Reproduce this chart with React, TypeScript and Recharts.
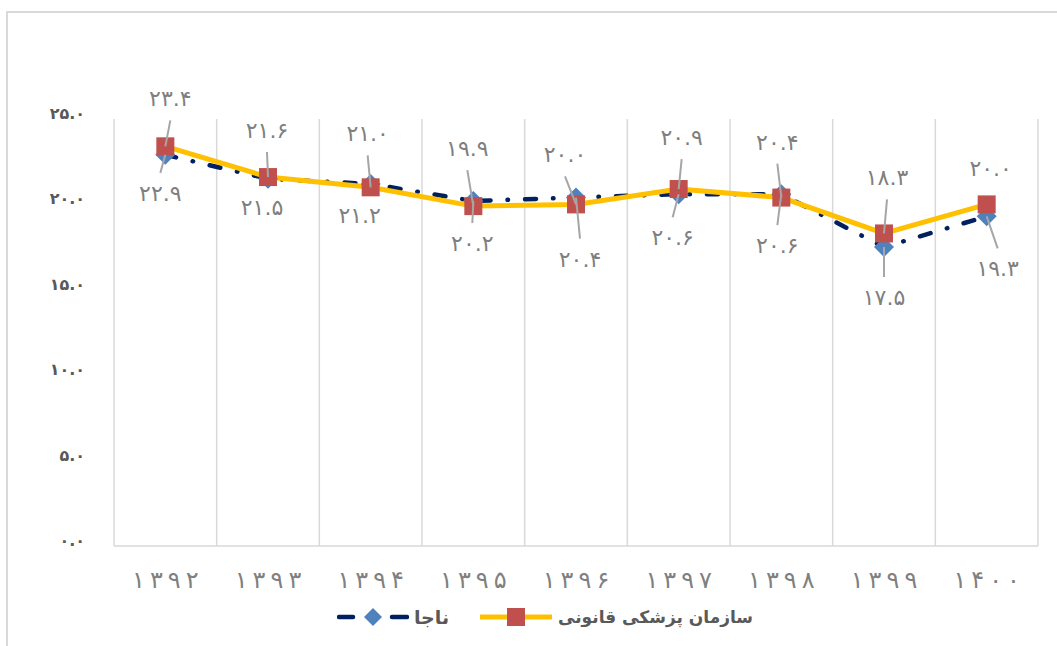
import React from "react";
import {
  LineChart,
  Line,
  XAxis,
  YAxis,
  CartesianGrid,
  Legend,
  LabelList,
} from "recharts";

const years = ["۱۳۹۲", "۱۳۹۳", "۱۳۹۴", "۱۳۹۵", "۱۳۹۶", "۱۳۹۷", "۱۳۹۸", "۱۳۹۹", "۱۴۰۰"];
const naja = [22.9, 21.5, 21.2, 20.2, 20.4, 20.6, 20.6, 17.5, 19.3];
const forensic = [23.4, 21.6, 21.0, 19.9, 20.0, 20.9, 20.4, 18.3, 20.0];
const yTicks = [0, 5, 10, 15, 20, 25];

const NAJA_NAME = "ناجا";
const FORENSIC_NAME = "سازمان پزشکی قانونی";

// hand-moved data labels in the original: [dx, dy] from each marker
const forensicLabelShift = [
  [5, -48], [-1, -47], [-3, -54], [-6, -58], [-11, -50],
  [3, -52], [-4, -56], [3, -56], [4, -36],
];
const najaLabelShift = [
  [-5, 38], [-6, 28], [-11, 31], [-1, 42], [4, 61],
  [-6, 43], [-4, 51], [0, 50], [11, 52],
];

const FONT = "'DejaVu Sans', sans-serif";
const GRID = "#d9d9d9";
const NAVY = "#002060";
const BLUE = "#4F81BD";
const YELLOW = "#FFC000";
const RED = "#C0504D";

const toFa = (s: string) => s.replace(/\d/g, (d) => "۰۱۲۳۴۵۶۷۸۹"[Number(d)]);
const fmt = (v: number) => toFa(v.toFixed(1));

const data = years.map((year, i) => ({
  year,
  naja: naja[i],
  forensic: forensic[i],
}));

const renderDiamond = (props: any) => {
  const { cx, cy, index } = props;
  if (cx == null || cy == null) return <g key={`d-${index}`} />;
  const r = 10;
  return (
    <polygon
      key={`d-${index}`}
      points={`${cx},${cy - r} ${cx + r},${cy} ${cx},${cy + r} ${cx - r},${cy}`}
      fill={BLUE}
    />
  );
};

const renderSquare = (props: any) => {
  const { cx, cy, index } = props;
  if (cx == null || cy == null) return <g key={`s-${index}`} />;
  return (
    <rect key={`s-${index}`} x={cx - 9} y={cy - 9} width={18} height={18} fill={RED} />
  );
};

// chrome drops letter-spacing for arabic-script digits, so space them by hand
const spaced = (s: string, gap: number) =>
  Array.from(s).map((ch, i) => (
    <tspan key={i} dx={i === 0 ? 0 : gap}>
      {ch}
    </tspan>
  ));

const makeLabel = (shift: number[][]) => (props: any) => {
  const { index, value } = props;
  const px = props.x ?? props.viewBox?.x;
  const py = props.y ?? props.viewBox?.y;
  if (px == null || py == null) return null;
  const [dx, dy] = shift[index];
  const lx = px + dx;
  const ly = py + dy;
  const showLeader = Math.abs(dy) > 37;
  return (
    <g key={`l-${index}`}>
      {showLeader && (
        <line
          x1={lx}
          y1={ly + (dy < 0 ? 22 : -20)}
          x2={px}
          y2={py}
          stroke="#a6a6a6"
          strokeWidth={2}
        />
      )}
      <text
        x={lx}
        y={ly + 8}
        textAnchor="middle"
        fontFamily={FONT}
        fontSize={22}
        fill="#7f7f7f"
      >
        {fmt(Number(value))}
      </text>
    </g>
  );
};

const YTick = (props: any) => {
  const { x, y, payload } = props;
  return (
    <text
      x={x - 29}
      y={y}
      textAnchor="end"
      fontFamily={FONT}
      fontSize={16}
      fontWeight="bold"
      fill="#595959"
    >
      {fmt(payload.value)}
    </text>
  );
};

const XTick = (props: any) => {
  const { x, y, payload } = props;
  return (
    <text
      x={x}
      y={y + 42}
      textAnchor="middle"
      fontFamily={FONT}
      fontSize={24}
      fill="#808080"
    >
      {spaced(payload.value, 5)}
    </text>
  );
};

const LegendContent = () => (
  <div
    style={{
      height: 41,
      display: "flex",
      justifyContent: "center",
      alignItems: "flex-start",
      paddingLeft: 52,
      fontFamily: FONT,
      fontSize: 17,
      fontWeight: "bold",
      color: "#595959",
    }}
  >
    <div style={{ display: "flex", alignItems: "center", height: 24, marginRight: 31 }}>
      <svg width={72} height={22}>
        <line x1={2} y1={11} x2={16} y2={11} stroke={NAVY} strokeWidth={4.5} strokeLinecap="round" />
        <polygon points="36,2 45,11 36,20 27,11" fill={BLUE} />
        <line x1={55} y1={11} x2={70} y2={11} stroke={NAVY} strokeWidth={4.5} strokeLinecap="round" />
      </svg>
      <span style={{ marginLeft: 5, fontSize: 19 }}>{NAJA_NAME}</span>
    </div>
    <div style={{ display: "flex", alignItems: "center", height: 24 }}>
      <svg width={72} height={22}>
        <line x1={0} y1={11} x2={72} y2={11} stroke={YELLOW} strokeWidth={5} strokeLinecap="round" />
        <rect x={27} y={2} width={18} height={18} fill={RED} />
      </svg>
      <span style={{ marginLeft: 6 }}>{FORENSIC_NAME}</span>
    </div>
  </div>
);

export default function App() {
  return (
    <div
      style={{
        position: "relative",
        width: 1057,
        height: 646,
        overflow: "hidden",
        background: "#fff",
      }}
    >
      <style>{"body{margin:0}"}</style>
      <div
        style={{
          position: "absolute",
          left: 6,
          top: 11,
          width: 1100,
          height: 700,
          border: `2px solid ${GRID}`,
        }}
      />
      <div style={{ position: "absolute", left: 0, top: 0 }}>
        <LineChart
          width={1057}
          height={646}
          data={data}
          margin={{ top: 119, right: 19, bottom: 0, left: 0 }}
        >
          <CartesianGrid
            horizontal={false}
            stroke={GRID}
            strokeWidth={1.5}
            verticalCoordinatesGenerator={({ offset }: any) =>
              Array.from(
                { length: years.length + 1 },
                (_, i) => offset.left + (offset.width * i) / years.length
              )
            }
          />
          <XAxis
            dataKey="year"
            scale="band"
            interval={0}
            height={59}
            axisLine={{ stroke: GRID, strokeWidth: 1.5 }}
            tickLine={false}
            tickSize={0}
            tickMargin={0}
            tick={<XTick />}
          />
          <YAxis
            domain={[0, 25]}
            ticks={yTicks}
            width={114}
            axisLine={false}
            tickLine={false}
            tickSize={0}
            tickMargin={0}
            tick={<YTick />}
          />
          <Legend verticalAlign="bottom" content={<LegendContent />} />
          <Line
            dataKey="naja"
            name={NAJA_NAME}
            stroke={NAVY}
            strokeWidth={4.5}
            strokeDasharray="11 17 0.5 17"
            strokeLinecap="round"
            dot={renderDiamond}
            activeDot={false}
            isAnimationActive={false}
          />
          <Line
            dataKey="forensic"
            name={FORENSIC_NAME}
            stroke={YELLOW}
            strokeWidth={5}
            dot={renderSquare}
            activeDot={false}
            isAnimationActive={false}
          />
          <Line
            dataKey="naja"
            stroke="none"
            dot={false}
            activeDot={false}
            legendType="none"
            isAnimationActive={false}
          >
            <LabelList dataKey="naja" content={makeLabel(najaLabelShift)} />
          </Line>
          <Line
            dataKey="forensic"
            stroke="none"
            dot={false}
            activeDot={false}
            legendType="none"
            isAnimationActive={false}
          >
            <LabelList dataKey="forensic" content={makeLabel(forensicLabelShift)} />
          </Line>
        </LineChart>
      </div>
    </div>
  );
}
